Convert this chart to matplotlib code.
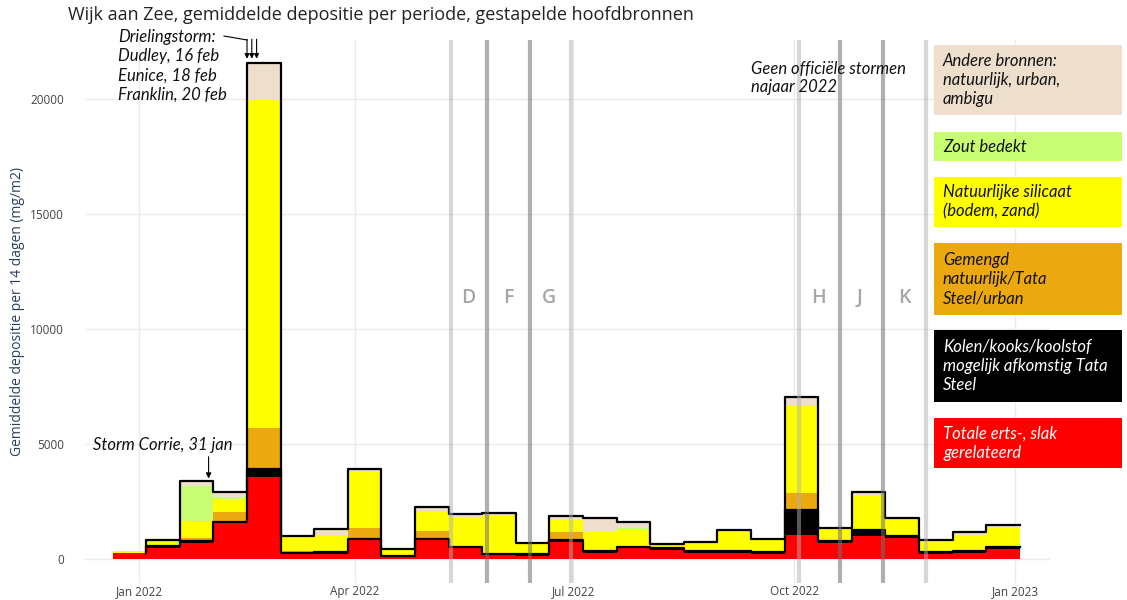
import numpy as np
import pandas as pd
import matplotlib
matplotlib.use('Agg')
import matplotlib.pyplot as plt
import matplotlib.dates as mdates
from matplotlib.patches import Rectangle

# 14-daagse meetperiodes, Wijk aan Zee
period_start = pd.date_range('2021-12-21', periods=27, freq='14D')

# gestapelde bronnen (mg/m2 per 14 dagen), van onder naar boven
erts = [260, 490, 710, 1550, 3570, 250, 220, 830, 130, 830, 480, 180, 150, 750,
        250, 465, 400, 270, 270, 220, 1045, 700, 1000, 900, 220, 270, 420]
kolen = [0, 60, 60, 60, 350, 30, 100, 50, 20, 50, 50, 50, 50, 60,
         80, 50, 80, 70, 80, 70, 1090, 80, 260, 100, 80, 80, 100]
gemengd = [0, 40, 130, 435, 1780, 80, 30, 460, 10, 360, 0, 0, 0, 360,
           30, 70, 30, 20, 20, 40, 725, 20, 60, 20, 20, 20, 20]
silicaat = [100, 150, 750, 560, 14270, 600, 700, 2430, 270, 860, 1300, 1680, 500, 520,
            800, 700, 80, 350, 830, 480, 3840, 520, 1480, 670, 480, 680, 800]
zout = [0, 40, 1510, 100, 0, 0, 0, 0, 0, 0, 0, 0, 0, 0,
        0, 70, 20, 0, 0, 0, 0, 0, 0, 0, 0, 0, 0]
andere = [0, 30, 240, 230, 1610, 30, 250, 145, 20, 145, 110, 100, 20, 180,
          640, 260, 30, 40, 60, 50, 360, 40, 130, 80, 20, 140, 140]

layer_colors = ['#ff0000', '#000000', '#eba80f', '#ffff00', '#c8fc72', '#eedfcd']

legend_labels = ['Andere bronnen:\nnatuurlijk, urban,\nambigu',
                 'Zout bedekt',
                 'Natuurlijke silicaat\n(bodem, zand)',
                 'Gemengd\nnatuurlijk/Tata\nSteel/urban',
                 'Kolen/kooks/koolstof\nmogelijk afkomstig Tata\nSteel',
                 'Totale erts-, slak\ngerelateerd']
legend_colors = ['#eedfcd', '#c8fc72', '#ffff00', '#eba80f', '#000000', '#ff0000']
legend_text_colors = ['#111111', '#111111', '#111111', '#111111', 'white', 'white']

# stormperiodes
storm_lines = ['2022-05-11', '2022-05-26', '2022-06-13', '2022-06-30',
               '2022-10-03', '2022-10-20', '2022-11-07', '2022-11-25']
storm_dark = [False, True, True, False, False, True, True, False]
storm_letters = ['D', 'F', 'G', 'H', 'J', 'K']
storm_letter_dates = ['2022-05-18', '2022-06-04', '2022-06-21',
                      '2022-10-11', '2022-10-28', '2022-11-16']

W, H = 1127, 600
fig = plt.figure(figsize=(W / 100, H / 100), dpi=100)
ax = fig.add_axes([85 / W, 17 / H, 965 / W, 543 / H])

def fx(px):
    return px / W

def fy(py):
    return 1 - py / H

jan1 = mdates.date2num(pd.Timestamp('2022-01-01'))
ax.set_xlim(jan1 + (85 - 139) / 2.4, jan1 + (1050 - 139) / 2.4)
ax.set_ylim(-1040, 22565)

xe = mdates.date2num(list(period_start) + [period_start[-1] + pd.Timedelta(days=14)])
base = np.zeros(len(erts))
for vals, col in zip([erts, kolen, gemengd, silicaat, zout, andere], layer_colors):
    top = base + np.array(vals)
    ax.fill_between(xe, np.append(base, base[-1]), np.append(top, top[-1]),
                    step='post', color=col, lw=0, zorder=2)
    base = top
total = base

cum_kolen = np.array(erts) + np.array(kolen)
for line in [cum_kolen, total]:
    xs = np.concatenate([[xe[1]], xe[1:]])
    ys = np.concatenate([[line[0]], line[1:], [line[-1]]])
    ax.step(xs, ys, where='post', color='black', lw=1.6, zorder=3)

for d, dark in zip(storm_lines, storm_dark):
    if dark:
        ax.axvline(pd.Timestamp(d), color='#707070', lw=3, alpha=0.55, zorder=4)
    else:
        ax.axvline(pd.Timestamp(d), color='#b0b0b0', lw=3, alpha=0.5, zorder=4)

for lab, d in zip(storm_letters, storm_letter_dates):
    ax.text(pd.Timestamp(d), 11350, lab, color='#a6a6a6', fontsize=14,
            fontweight='semibold', ha='center', va='center', family='Open Sans')

# assen
ax.set_yticks([0, 5000, 10000, 15000, 20000])
ax.set_yticklabels(['0', '5000', '10000', '15000', '20000'])
xt = [pd.Timestamp(s) for s in ['2022-01-01', '2022-04-01', '2022-07-01', '2022-10-01', '2023-01-01']]
ax.set_xticks(xt)
ax.set_xticklabels(['Jan 2022', 'Apr 2022', 'Jul 2022', 'Oct 2022', 'Jan 2023'])
ax.tick_params(length=0, labelsize=8.5, colors='#444444')
ax.tick_params(axis='x', pad=1.5)
ax.tick_params(axis='y', pad=15)
for lab in ax.get_xticklabels() + ax.get_yticklabels():
    lab.set_family('Open Sans')
for s in ax.spines.values():
    s.set_visible(False)
ax.grid(color='#ebebeb', lw=1)
ax.set_axisbelow(True)
fig.text(fx(18), fy(312), 'Gemiddelde depositie per 14 dagen (mg/m2)', fontsize=10,
         color='#2a3f5f', family='Open Sans', rotation=90, ha='center', va='center')

fig.text(fx(68), fy(15), 'Wijk aan Zee, gemiddelde depositie per periode, gestapelde hoofdbronnen',
         fontsize=13, family='Open Sans', color='#222222', va='center', ha='left')

ital = dict(family='Lato', style='italic', fontsize=12, color='#111111')

# annotaties
fig.text(fx(118), fy(66), 'Drielingstorm:\nDudley, 16 feb\nEunice, 18 feb\nFranklin, 20 feb',
         va='center', ha='left', linespacing=1.25, **ital)
fig.add_artist(plt.Line2D([fx(224), fx(247)], [fy(36), fy(40)], color='black', lw=0.8))
for d in ['2022-02-15', '2022-02-17', '2022-02-19']:
    ax.annotate('', xy=(pd.Timestamp(d), 21750), xytext=(pd.Timestamp(d), 22600),
                arrowprops=dict(arrowstyle='-|>', color='black', lw=0.8,
                                mutation_scale=7, shrinkA=0, shrinkB=0),
                annotation_clip=False)

fig.text(fx(93), fy(445), 'Storm Corrie, 31 jan', va='center', ha='left', **ital)
ax.annotate('', xy=(pd.Timestamp('2022-01-30'), 3500), xytext=(pd.Timestamp('2022-01-30'), 4450),
            arrowprops=dict(arrowstyle='-|>', color='black', lw=0.8,
                            mutation_scale=8, shrinkA=0, shrinkB=0))

fig.text(fx(751), fy(78), 'Geen officiële stormen\nnajaar 2022', va='center', ha='left',
         linespacing=1.2, **ital)

# legenda-vakken
box_top = [45, 132, 177, 243, 330, 418]
box_bot = [115, 161, 227, 315, 402, 468]
for lab, col, tcol, t, b in zip(legend_labels, legend_colors, legend_text_colors, box_top, box_bot):
    fig.add_artist(Rectangle((fx(934), fy(b)), fx(1122) - fx(934), fy(t) - fy(b),
                             transform=fig.transFigure, facecolor=col, edgecolor='none', zorder=5))
    t_kw = dict(ital)
    t_kw['color'] = tcol
    fig.text(fx(943), fy((t + b) / 2), lab, va='center', ha='left', linespacing=1.25,
             zorder=6, **t_kw)

fig.savefig('out.png', dpi=100)
